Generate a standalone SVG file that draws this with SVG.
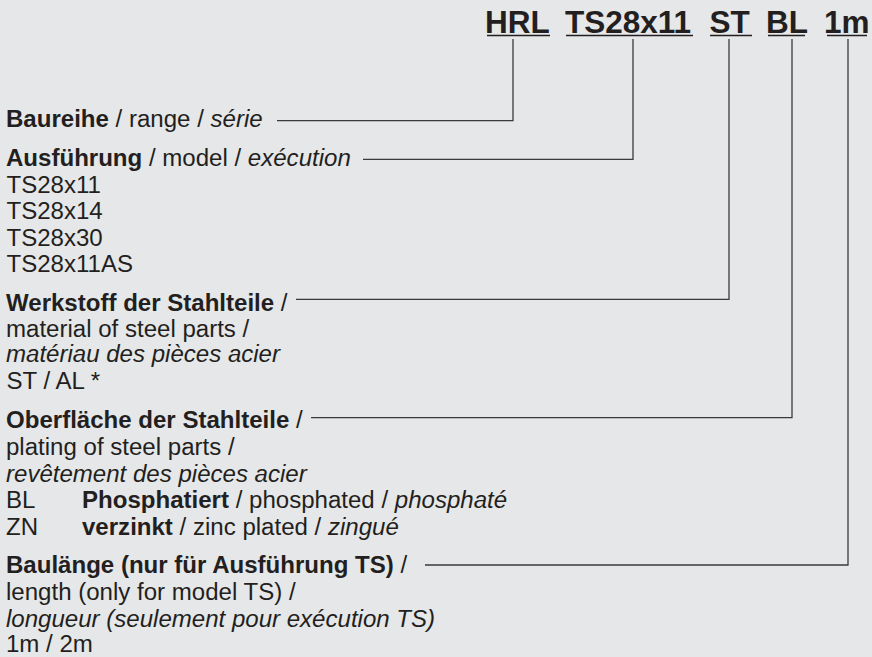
<svg xmlns="http://www.w3.org/2000/svg" width="872" height="657" viewBox="0 0 872 657">
<style>
text{font-family:"Liberation Sans",Arial,Helvetica,sans-serif;fill:#231f20}
.h{font-size:31.5px;font-weight:bold}
.t{font-size:24.05px}
.b{font-weight:bold}
.i{font-style:italic}
.ul{stroke:#231f20;stroke-width:1.6}
.c{fill:none;stroke:#3a3a3a;stroke-width:1.3}
</style>
<rect width="872" height="657" fill="#e6e7e9"/>
<g id="code-HRL"><text class="h" x="485" y="33">HRL</text><line class="ul" x1="487" y1="35.5" x2="550" y2="35.5"/></g>
<g id="code-TS"><text class="h" x="565" y="33">TS28x11</text><line class="ul" x1="566" y1="35.5" x2="693" y2="35.5"/></g>
<g id="code-ST"><text class="h" x="709.4" y="33">ST</text><line class="ul" x1="710" y1="35.5" x2="752" y2="35.5"/></g>
<g id="code-BL"><text class="h" x="766" y="33">BL</text><line class="ul" x1="768" y1="35.5" x2="805" y2="35.5"/></g>
<g id="code-1m"><text class="h" x="824" y="33">1m</text><line class="ul" x1="827" y1="35.5" x2="867" y2="35.5"/></g>

<g id="connectors">
<path class="c" d="M513,39 V120.7 H277"/>
<path class="c" d="M633,39 V159.3 H363"/>
<path class="c" d="M729,39 V299.3 H296"/>
<path class="c" d="M792,39 V417.7 H311"/>
<path class="c" d="M848,39 V565 H425"/>
</g>

<g id="baureihe"><text class="t" x="6" y="127.3"><tspan class="b">Baureihe</tspan> / range / <tspan class="i">série</tspan></text></g>
<g id="ausfuehrung">
<text class="t" x="6" y="165.7"><tspan class="b">Ausführung</tspan> / model / <tspan class="i">exécution</tspan></text>
<text class="t" x="6.5" y="192.7">TS28x11</text>
<text class="t" x="6.5" y="219.3">TS28x14</text>
<text class="t" x="6.5" y="246">TS28x30</text>
<text class="t" x="6.5" y="271.7">TS28x11AS</text>
</g>
<g id="werkstoff">
<text class="t" x="6" y="310.5"><tspan class="b">Werkstoff der Stahlteile</tspan> /</text>
<text class="t" x="6" y="336.7">material of steel parts /</text>
<text class="t i" x="6" y="362">matériau des pièces acier</text>
<text class="t" x="6.5" y="388.5">ST / AL *</text>
</g>
<g id="oberflaeche">
<text class="t" x="6" y="428"><tspan class="b">Oberfläche der Stahlteile</tspan> /</text>
<text class="t" x="6" y="455">plating of steel parts /</text>
<text class="t i" x="6" y="481.7">revêtement des pièces acier</text>
<text class="t" x="6" y="508.3">BL</text>
<text class="t" x="82" y="508.3"><tspan class="b">Phosphatiert</tspan> / phosphated / <tspan class="i">phosphaté</tspan></text>
<text class="t" x="6" y="535">ZN</text>
<text class="t" x="82" y="535"><tspan class="b">verzinkt</tspan> / zinc plated / <tspan class="i">zingué</tspan></text>
</g>
<g id="baulaenge">
<text class="t" x="6" y="573.3"><tspan class="b">Baulänge (nur für Ausführung TS)</tspan> /</text>
<text class="t" x="6" y="600">length (only for model TS) /</text>
<text class="t i" x="6" y="626.7">longueur (seulement pour exécution TS)</text>
<text class="t" x="6" y="652">1m / 2m</text>
</g>
</svg>
